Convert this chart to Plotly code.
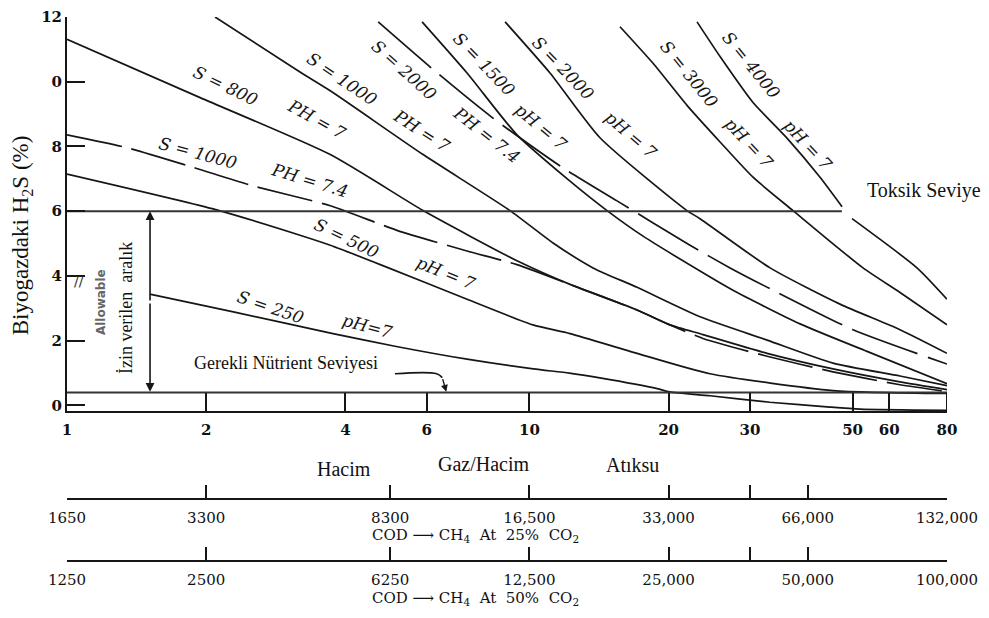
import math
import plotly.graph_objects as go

# ---------------- data ----------------
x_ticks = [1, 2, 4, 6, 10, 20, 30, 50, 60, 80]
y_ticks = [0, 2, 4, 6, 8, 10, 12]
y_ticklabels = ["0", "2", "4", "6", "8", "0", "12"]

cod_tick_pos = [1, 2, 5, 10, 20, 30, 40, 80]
cod25_labels = ["1650", "3300", "8300", "16,500", "33,000", " ", "66,000", "132,000"]
cod50_labels = ["1250", "2500", "6250", "12,500", "25,000", " ", "50,000", "100,000"]

toxic_level = 6.0
toxic_x = [1, 47.4]
nutrient_level = 0.4
nutrient_x = [1, 80]

s250_x = [1.51, 2.29, 3.76, 5.12, 7.33, 10.2, 12.2, 14.2, 18.9, 20.1, 24.6, 33.1, 44.7, 51.9, 80]
s250_y = [3.44, 2.89, 2.22, 1.83, 1.43, 1.13, 1.00, 0.85, 0.52, 0.42, 0.30, 0.10, -0.05, -0.11, -0.15]

s500_x = [1.0, 2.06, 3.19, 3.71, 4.82, 7.33, 10.18, 12.24, 17.09, 24.58, 45.35, 80]
s500_y = [7.15, 6.08, 5.26, 4.95, 4.32, 3.28, 2.49, 2.22, 1.61, 0.98, 0.46, 0.37]

s1000_74_x = [1.0, 1.35, 1.87, 2.53, 3.71, 5.17, 7.33, 9.40, 12.24, 17.09, 20.14, 23.73, 32.66, 45.35, 63.3, 80]
s1000_74_y = [8.36, 7.96, 7.36, 6.78, 6.17, 5.41, 4.77, 4.35, 3.74, 2.95, 2.49, 2.07, 1.52, 1.04, 0.64, 0.43]

s800_x = [1.0, 1.94, 3.71, 5.89, 7.44, 9.40, 12.24, 17.09, 20.14, 23.73, 32.66, 45.35, 63.3, 80]
s800_y = [11.31, 9.51, 7.75, 6.02, 5.23, 4.47, 3.74, 2.95, 2.49, 2.19, 1.61, 1.13, 0.73, 0.49]

s1000_7_x = [2.09, 3.19, 3.71, 5.89, 9.08, 11.25, 13.73, 17.09, 23.39, 32.66, 45.35, 63.3, 80]
s1000_7_y = [12.0, 10.30, 9.72, 7.75, 6.02, 5.02, 4.25, 3.65, 2.74, 2.02, 1.31, 0.91, 0.61]

s2000_74_x = [4.71, 6.25, 8.30, 11.76, 15.47, 22.25, 27.16, 33.64, 50.1, 80]
s2000_74_y = [11.85, 10.33, 8.90, 7.36, 6.32, 4.95, 4.25, 3.56, 2.34, 1.28]

s1500_x = [5.86, 7.33, 9.40, 12.24, 14.72, 17.61, 23.73, 27.56, 38.48, 53.72, 80]
s1500_y = [11.85, 10.27, 8.36, 6.93, 6.02, 5.23, 4.10, 3.56, 2.52, 1.67, 0.67]

s2000_7_x = [8.86, 11.08, 14.21, 21.92, 23.39, 33.14, 46.96, 63.32, 80]
s2000_7_y = [11.85, 10.27, 8.27, 6.02, 5.77, 4.25, 3.13, 2.34, 1.61]

s3000_x = [15.70, 18.51, 21.92, 25.84, 30.45, 37.16, 52.66, 63.32, 80]
s3000_y = [11.70, 10.57, 9.27, 8.14, 7.05, 6.02, 4.25, 3.49, 2.49]

s4000_x = [23.04, 25.84, 30.45, 36.06, 42.51, 47.44, None, 49.86, 68.9, 80]
s4000_y = [11.85, 10.78, 9.36, 8.26, 7.05, 6.14, None, 5.77, 4.25, 3.28]

allow_x = 1.512

# ---------------- figure ----------------
INK = "#161616"
SERIF = "Liberation Serif"
LBL = "DejaVu Serif"

fig = go.Figure()


def curve(x, y, dash="solid", width=1.7):
    fig.add_trace(go.Scatter(
        x=x, y=y, mode="lines", showlegend=False, hoverinfo="skip",
        line=dict(color=INK, width=width, dash=dash, shape="spline", smoothing=0.6),
        connectgaps=False))


curve(s250_x, s250_y)
curve(s500_x, s500_y)
curve(s1000_74_x, s1000_74_y, dash="56px,10px")
curve(s800_x, s800_y)
curve(s1000_7_x, s1000_7_y)
curve(s2000_74_x, s2000_74_y, dash="70px,11px")
curve(s1500_x, s1500_y)
curve(s2000_7_x, s2000_7_y)
curve(s3000_x, s3000_y)
curve(s4000_x, s4000_y)

# toxic and nutrient levels, box edge
fig.add_trace(go.Scatter(x=toxic_x, y=[toxic_level] * 2, mode="lines", showlegend=False,
                         hoverinfo="skip", line=dict(color="#333", width=2.2)))
fig.add_trace(go.Scatter(x=nutrient_x, y=[nutrient_level] * 2, mode="lines", showlegend=False,
                         hoverinfo="skip", line=dict(color="#333", width=2.2)))
fig.add_trace(go.Scatter(x=[80, 80], y=[-0.18, nutrient_level], mode="lines", showlegend=False,
                         hoverinfo="skip", line=dict(color=INK, width=2)))
# nutrient pointer line
fig.add_trace(go.Scatter(x=[5.12, 6.3, 6.48], y=[0.98, 0.98, 0.86], mode="lines", showlegend=False,
                         hoverinfo="skip", line=dict(color=INK, width=1.6, shape="spline")))

# dummy traces to show the COD scales
fig.add_trace(go.Scatter(x=[1, 80], y=[0, 0], xaxis="x2", yaxis="y", mode="markers",
                         marker=dict(opacity=0), showlegend=False, hoverinfo="skip"))
fig.add_trace(go.Scatter(x=[1, 80], y=[0, 0], xaxis="x3", yaxis="y", mode="markers",
                         marker=dict(opacity=0), showlegend=False, hoverinfo="skip"))

L = math.log10
xr = [0, L(80)]

ann = []
labels = [
    ("S = 800", 2.207, 9.88, 26), ("PH = 7", 3.456, 8.84, 29),
    ("S = 1000", 3.932, 10.09, 34), ("PH = 7", 5.857, 8.48, 33),
    ("S = 1000", 1.920, 7.81, 15), ("PH = 7.4", 3.337, 6.96, 17),
    ("S = 2000", 5.356, 10.36, 42), ("PH = 7.4", 8.096, 8.36, 38),
    ("S = 1500", 7.976, 10.54, 46), ("pH = 7", 10.60, 8.60, 40),
    ("S = 2000", 11.82, 10.42, 46), ("pH = 7", 16.59, 8.36, 41),
    ("S = 3000", 22.14, 10.24, 51), ("pH = 7", 29.85, 8.11, 47),
    ("S = 4000", 30.15, 10.51, 51), ("pH = 7", 40.05, 8.05, 47),
    ("S = 500", 4.012, 5.17, 26), ("pH = 7", 6.601, 4.10, 22),
    ("S = 250", 2.748, 3.04, 19), ("pH=7", 4.455, 2.46, 15),
]
for t, xv, yv, ang in labels:
    ann.append(dict(text="<i>" + t + "</i>", x=L(xv), y=yv, xref="x", yref="y",
                    xanchor="center", yanchor="middle",
                    showarrow=False, textangle=ang,
                    font=dict(family=LBL, size=17, color=INK)))


def txt(text, x, y, xref="x", yref="y", angle=0, family=SERIF, size=18, color="#111"):
    ann.append(dict(text=text, x=x, y=y, xref=xref, yref=yref, showarrow=False,
                    xanchor="center", yanchor="middle", textangle=angle,
                    font=dict(family=family, size=size, color=color)))


# free text
txt("Toksik Seviye", L(71.3), 6.63, size=20)
txt("Gerekli Nütrient Seviyesi", L(2.976), 1.31, size=18)
txt("İzin verilen\u00a0 aralık", L(1.342), 3.01, angle=-90, size=18)
txt("<b>Allowable</b>", L(1.184), 3.19, angle=-90, family="DejaVu Sans", size=12, color="#666")
txt("//", L(1.062), 3.86, family="DejaVu Sans", size=14, color="#333")
txt("Biyogazdaki H<sub>2</sub>S (%)", -0.051, 5.26, xref="paper", angle=-90, size=23)

# arrows
for yt in (toxic_level, nutrient_level + 0.02):
    ann.append(dict(text="", x=L(allow_x), y=yt, ax=L(allow_x), ay=3.2, xref="x", yref="y",
                    axref="x", ayref="y", showarrow=True, arrowhead=2, arrowsize=1.1,
                    arrowwidth=1.6, arrowcolor=INK))
ann.append(dict(text="", x=L(6.61), y=nutrient_level + 0.02, ax=L(6.48), ay=0.86, xref="x", yref="y",
                axref="x", ayref="y", showarrow=True, arrowhead=2, arrowsize=1,
                arrowwidth=1.4, arrowcolor=INK))

# lower scale captions (paper y: plot area spans 10..610 px)
for t, xv, yp in [("Hacim", 3.97, 0.2333), ("Gaz/Hacim", 7.98, 0.2417), ("Atıksu", 16.67, 0.24)]:
    txt(t, L(xv), yp, yref="paper", size=20)
for t, yp in [("COD \u27f6 CH<sub>4</sub>  At  25%  CO<sub>2</sub>", 0.1217),
              ("COD \u27f6 CH<sub>4</sub>  At  50%  CO<sub>2</sub>", 0.015)]:
    txt(t, L(7.66), yp, yref="paper", family=LBL, size=15)

tickfont = dict(family=LBL, size=15, color="#111", weight="bold")
codfont = dict(family=LBL, size=15, color="#111")

common_x = dict(type="log", range=xr, showgrid=False, zeroline=False, showline=True,
                linecolor=INK, linewidth=2, ticks="inside", tickcolor=INK)

fig.update_layout(
    width=989, height=618,
    margin=dict(l=67, r=42, t=10, b=8),
    paper_bgcolor="white", plot_bgcolor="white",
    showlegend=False,
    xaxis=dict(**common_x, anchor="y", ticklen=18, tickwidth=1.8,
               tickvals=x_ticks, ticktext=[str(v) for v in x_ticks], tickfont=tickfont,
               ticklabelstandoff=4),
    xaxis2=dict(**common_x, overlaying="x", anchor="free", position=0.1833, side="bottom",
                ticklen=13, tickwidth=1.6, tickvals=cod_tick_pos, ticktext=cod25_labels,
                tickfont=codfont, ticklabelstandoff=5),
    xaxis3=dict(**common_x, overlaying="x", anchor="free", position=0.0783, side="bottom",
                ticklen=13, tickwidth=1.6, tickvals=cod_tick_pos, ticktext=cod50_labels,
                tickfont=codfont, ticklabelstandoff=5),
    yaxis=dict(range=[-0.18, 12], domain=[0.3317, 1], showgrid=False, zeroline=False,
               showline=True, linecolor=INK, linewidth=2, ticks="inside", ticklen=18,
               tickwidth=1.8, tickcolor=INK, tickvals=y_ticks, ticktext=y_ticklabels,
               tickfont=tickfont),
    annotations=ann,
)

fig.write_html("out.html", config={"displayModeBar": False},
               post_script="document.body.style.margin='0px';document.body.style.overflow='hidden';")
